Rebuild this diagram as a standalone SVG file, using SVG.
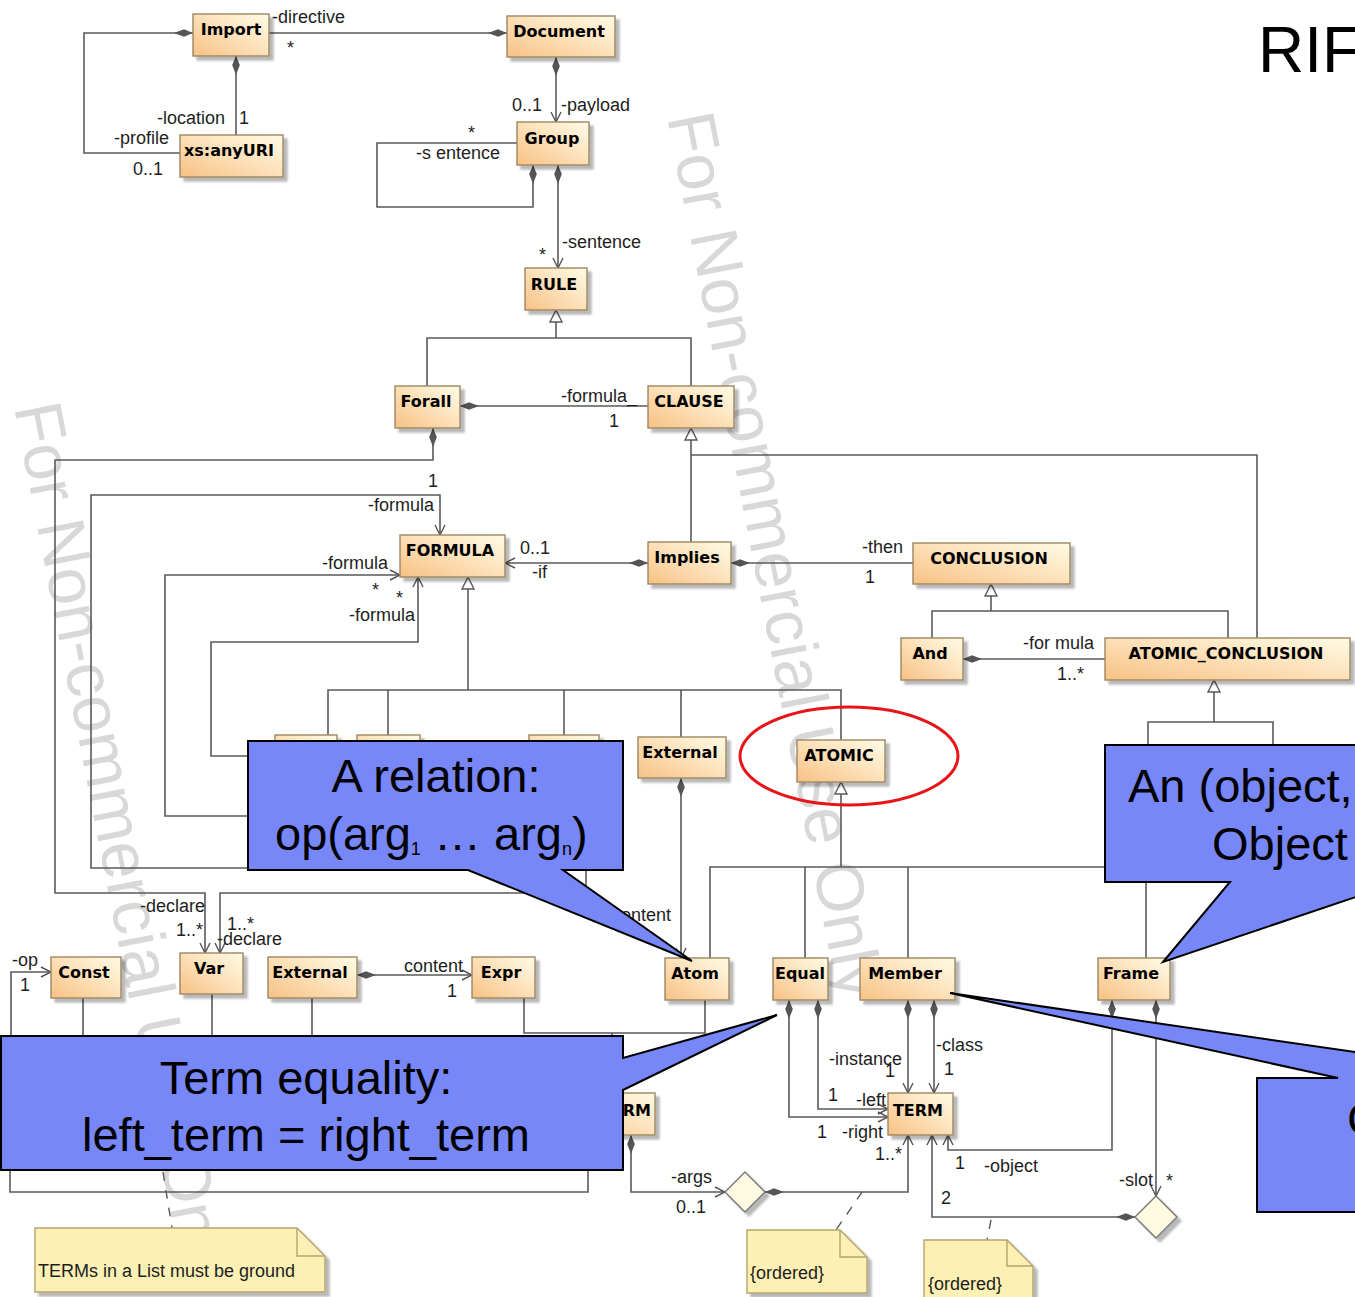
<svg xmlns="http://www.w3.org/2000/svg" width="1355" height="1297" viewBox="0 0 1355 1297">
<defs>
  <linearGradient id="nodeFill" x1="0" y1="1" x2="1" y2="0">
    <stop offset="0" stop-color="#f7c184"/>
    <stop offset="0.55" stop-color="#fde3bd"/>
    <stop offset="1" stop-color="#fffbe6"/>
  </linearGradient>
  <filter id="shadow" x="-10%" y="-10%" width="135%" height="145%">
    <feDropShadow dx="4" dy="4" stdDeviation="1.2" flood-color="#000" flood-opacity="0.28"/>
  </filter>
  <marker id="dia" markerUnits="userSpaceOnUse" viewBox="0 0 20 10" markerWidth="20" markerHeight="10" refX="0" refY="5" orient="auto">
    <path d="M0,5 L9,1.2 L19,5 L9,8.8 Z" fill="#555"/>
  </marker>
  <marker id="arr" markerUnits="userSpaceOnUse" viewBox="0 0 12 12" markerWidth="12" markerHeight="12" refX="11" refY="6" orient="auto">
    <path d="M1,1 L11,6 L1,11" fill="none" stroke="#555" stroke-width="1.4"/>
  </marker>
  <style>
    .ln{fill:none;stroke:#5a5a5a;stroke-width:1.6}
    .dm{marker-start:url(#dia)}
    .ar{marker-end:url(#arr)}
    .gen{fill:#fff;stroke:#5a5a5a;stroke-width:1.4}
    .bx{fill:url(#nodeFill);stroke:#9c8660;stroke-width:1.4;filter:url(#shadow)}
    .nm{font-family:"DejaVu Sans",sans-serif;font-weight:bold;font-size:16px;fill:#000;text-anchor:middle}
    .lb{font-family:"Liberation Sans",Arial,sans-serif;font-size:18px;fill:#1e1e1e}
    .note{fill:#fcf0b4;stroke:#b4a46c;stroke-width:1.4;filter:url(#shadow)}
    .fold{fill:none;stroke:#b4a46c;stroke-width:1.4}
    .nt{font-family:"Liberation Sans",Arial,sans-serif;font-size:18px;fill:#1e1e1e}
    .anc{fill:none;stroke:#5a5a5a;stroke-width:1.4;stroke-dasharray:9 9}
    .nary{fill:#fffbe3;stroke:#777;stroke-width:1.4;filter:url(#shadow)}
    .call{fill:#7787f7;stroke:#000;stroke-width:2}
    .ct{font-family:"Liberation Sans",Arial,sans-serif;font-size:47px;fill:#000}
    .wm{font-family:"Liberation Sans",Arial,sans-serif;font-size:67px;fill:#d8d8d8}
  </style>
</defs>

<rect width="1355" height="1297" fill="#fff"/>

<!-- evaluation-licence watermark -->
<g id="watermark">
  <text class="wm" transform="translate(667,117) rotate(79)">For Non-commercial Use Only</text>
  <text class="wm" transform="translate(14,407) rotate(79)">For Non-commercial Use Only</text>
</g>

<g id="connectors">
  <!-- generalization trees -->
  <path class="ln" d="M556,322 V338 M427,386 V338 H691 V386"/>
  <path class="ln" d="M691,440 V542 M691,455 H1257 V638"/>
  <path class="ln" d="M468,589 V690 M328,735 V690 H841 V740 M388,690 V735 M564,690 V735 M681,690 V737"/>
  <path class="ln" d="M991,596 V611 M932,638 V611 H1228 V638"/>
  <path class="ln" d="M1214,692 V722 M1148,760 V722 H1273 V760"/>
  <path class="ln" d="M841,794 V867 M710,958 V867 H1146 V958 M805,867 V958 M908,867 V958"/>
  <path class="ln" d="M83,998 V1040 M212,994 V1040 M312,998 V1040 M524,998 V1033 H705 V1000 M612,1033 V1040"/>
  <path class="ln" d="M10,1160 V1192 H588 V1160"/>
  <polygon class="gen" points="556,310 550,322 562,322"/>
  <polygon class="gen" points="691,428 685,440 697,440"/>
  <polygon class="gen" points="468,577 462,589 474,589"/>
  <polygon class="gen" points="991,584 985,596 997,596"/>
  <polygon class="gen" points="1214,680 1208,692 1220,692"/>
  <polygon class="gen" points="841,782 835,794 847,794"/>

  <!-- associations -->
  <path class="ln dm" d="M507,33 H269"/>
  <path class="ln dm" d="M236,56 V135"/>
  <path class="ln dm" d="M193,33 H84 V153 H180"/>
  <path class="ln dm ar" d="M556,57 V122"/>
  <path class="ln dm" d="M533,165 V207 H377 V143 H517"/>
  <path class="ln dm ar" d="M558,165 V268"/>
  <path class="ln dm" d="M460,406 H648"/>
  <path class="ln dm ar" d="M433,428 V460 H55 V893 H205 V953"/>
  <path class="ln dm ar" d="M648,563 H505"/>
  <path class="ln dm" d="M731,563 H913"/>
  <path class="ln ar" d="M248,868 H91 V495 H440 V535"/>
  <path class="ln ar" d="M248,816 H165 V575 H400"/>
  <path class="ln ar" d="M248,756 H211 V642 H418 V577"/>
  <path class="ln ar" d="M586,860 V893 H220 V953"/>
  <path class="ln dm" d="M963,659 H1105"/>
  <path class="ln dm ar" d="M681,778 V958"/>
  <path class="ln ar" d="M11,1040 V972 H51"/>
  <path class="ln dm ar" d="M357,975 H472"/>
  <path class="ln dm ar" d="M631,1135 V1192 H725"/>
  <path class="ln dm ar" d="M765,1192 H908 V1135"/>
  <path class="ln dm ar" d="M818,1000 V1109 H888"/>
  <path class="ln dm ar" d="M789,1000 V1117 H888"/>
  <path class="ln dm ar" d="M908,1000 V1093"/>
  <path class="ln dm ar" d="M934,1000 V1093"/>
  <path class="ln dm ar" d="M1112,1000 V1150 H948 V1135"/>
  <path class="ln dm ar" d="M1156,1000 V1196"/>
  <path class="ln dm ar" d="M1135,1217 H932 V1135"/>

  <!-- note anchors -->
  <path class="anc" d="M163,1172 L172,1228"/>
  <path class="anc" d="M862,1192 L836,1230"/>
  <path class="anc" d="M991,1220 L987,1240"/>

  <!-- role names and multiplicities -->
  <g class="lb">
    <text x="272" y="23">-directive</text>
    <text x="287" y="54">*</text>
    <text x="157" y="124">-location</text>
    <text x="239" y="124">1</text>
    <text x="114" y="144">-profile</text>
    <text x="133" y="175">0..1</text>
    <text x="512" y="111">0..1</text>
    <text x="561" y="111">-payload</text>
    <text x="468" y="139">*</text>
    <text x="416" y="159">-s entence</text>
    <text x="539" y="261">*</text>
    <text x="562" y="248">-sentence</text>
    <text x="561" y="402">-formula_</text>
    <text x="609" y="427">1</text>
    <text x="428" y="487">1</text>
    <text x="368" y="511">-formula</text>
    <text x="520" y="554">0..1</text>
    <text x="532" y="578">-if</text>
    <text x="862" y="553">-then</text>
    <text x="865" y="583">1</text>
    <text x="322" y="569">-formula</text>
    <text x="372" y="596">*</text>
    <text x="396" y="604">*</text>
    <text x="349" y="621">-formula</text>
    <text x="1023" y="649">-for mula</text>
    <text x="1057" y="680">1..*</text>
    <text x="140" y="912">-declare</text>
    <text x="176" y="936">1..*</text>
    <text x="227" y="930">1..*</text>
    <text x="217" y="945">-declare</text>
    <text x="606" y="921">-content</text>
    <text x="12" y="966">-op</text>
    <text x="20" y="991">1</text>
    <text x="404" y="972">content</text>
    <text x="447" y="997">1</text>
    <text x="829" y="1065">-instance</text>
    <text x="885" y="1077">1</text>
    <text x="936" y="1051">-class</text>
    <text x="944" y="1075">1</text>
    <text x="828" y="1101">1</text>
    <text x="856" y="1106">-left</text>
    <text x="817" y="1138">1</text>
    <text x="842" y="1138">-right</text>
    <text x="875" y="1160">1..*</text>
    <text x="955" y="1169">1</text>
    <text x="984" y="1172">-object</text>
    <text x="1119" y="1186">-slot</text>
    <text x="1166" y="1187">*</text>
    <text x="941" y="1204">2</text>
    <text x="671" y="1183">-args</text>
    <text x="676" y="1213">0..1</text>
  </g>
</g>

<!-- classes -->
<g id="n-import"><rect class="bx" x="193" y="14" width="76" height="42"/><text class="nm" x="231" y="35">Import</text></g>
<g id="n-document"><rect class="bx" x="507" y="16" width="108" height="41"/><text class="nm" x="559" y="37">Document</text></g>
<g id="n-anyuri"><rect class="bx" x="180" y="135" width="103" height="42"/><text class="nm" x="229" y="156">xs:anyURI</text></g>
<g id="n-group"><rect class="bx" x="517" y="122" width="72" height="43"/><text class="nm" x="552" y="144">Group</text></g>
<g id="n-rule"><rect class="bx" x="525" y="268" width="62" height="42"/><text class="nm" x="554" y="290">RULE</text></g>
<g id="n-forall"><rect class="bx" x="395" y="386" width="65" height="42"/><text class="nm" x="426" y="407">Forall</text></g>
<g id="n-clause"><rect class="bx" x="648" y="386" width="86" height="42"/><text class="nm" x="689" y="407">CLAUSE</text></g>
<g id="n-formula"><rect class="bx" x="400" y="535" width="105" height="42"/><text class="nm" x="450" y="556">FORMULA</text></g>
<g id="n-implies"><rect class="bx" x="648" y="542" width="83" height="42"/><text class="nm" x="687" y="563">Implies</text></g>
<g id="n-conclusion"><rect class="bx" x="913" y="543" width="157" height="41"/><text class="nm" x="989" y="564">CONCLUSION</text></g>
<g id="n-and"><rect class="bx" x="901" y="638" width="62" height="42"/><text class="nm" x="930" y="659">And</text></g>
<g id="n-atomic-conclusion"><rect class="bx" x="1105" y="638" width="245" height="42"/><text class="nm" x="1226" y="659">ATOMIC_CONCLUSION</text></g>
<g id="n-formula-sub1"><rect class="bx" x="275" y="735" width="62" height="42"/></g>
<g id="n-formula-sub2"><rect class="bx" x="357" y="735" width="63" height="42"/></g>
<g id="n-formula-sub3"><rect class="bx" x="529" y="735" width="70" height="42"/></g>
<g id="n-external-formula"><rect class="bx" x="638" y="737" width="88" height="41"/><text class="nm" x="680" y="758">External</text></g>
<g id="n-atomic"><rect class="bx" x="797" y="740" width="88" height="42"/><text class="nm" x="839" y="761">ATOMIC</text></g>
<g id="n-const"><rect class="bx" x="51" y="957" width="70" height="41"/><text class="nm" x="84" y="978">Const</text></g>
<g id="n-var"><rect class="bx" x="180" y="953" width="63" height="41"/><text class="nm" x="209" y="974">Var</text></g>
<g id="n-external-term"><rect class="bx" x="268" y="957" width="89" height="41"/><text class="nm" x="310" y="978">External</text></g>
<g id="n-expr"><rect class="bx" x="472" y="957" width="63" height="41"/><text class="nm" x="501" y="978">Expr</text></g>
<g id="n-atom"><rect class="bx" x="665" y="958" width="64" height="42"/><text class="nm" x="695" y="979">Atom</text></g>
<g id="n-equal"><rect class="bx" x="773" y="958" width="55" height="42"/><text class="nm" x="800" y="979">Equal</text></g>
<g id="n-member"><rect class="bx" x="860" y="958" width="95" height="42"/><text class="nm" x="905" y="979">Member</text></g>
<g id="n-frame"><rect class="bx" x="1098" y="958" width="72" height="42"/><text class="nm" x="1131" y="979">Frame</text></g>
<g id="n-term"><rect class="bx" x="888" y="1093" width="65" height="42"/><text class="nm" x="918" y="1116">TERM</text></g>
<g id="n-list-term"><rect class="bx" x="560" y="1093" width="95" height="42"/><text class="nm" x="651" y="1116" style="text-anchor:end">RM</text></g>

<!-- n-ary association diamonds -->
<g id="n-args"><polygon class="nary" points="745,1172 765,1192 745,1212 725,1192"/></g>
<g id="n-slot"><polygon class="nary" points="1156,1196 1177,1217 1156,1238 1135,1217"/></g>

<!-- notes -->
<g id="note-ground">
  <path class="note" d="M35,1228 H297 L325,1256 V1292 H35 Z"/>
  <path class="fold" d="M297,1228 V1256 H325"/>
  <text class="nt" x="38" y="1277">TERMs in a List must be ground</text>
</g>
<g id="note-ordered-args">
  <path class="note" d="M747,1230 H840 L867,1257 V1293 H747 Z"/>
  <path class="fold" d="M840,1230 V1257 H867"/>
  <text class="nt" x="750" y="1279">{ordered}</text>
</g>
<g id="note-ordered-slot">
  <path class="note" d="M924,1240 H1007 L1033,1266 V1302 H924 Z"/>
  <path class="fold" d="M1007,1240 V1266 H1033"/>
  <text class="nt" x="928" y="1290">{ordered}</text>
</g>

<!-- highlight -->
<ellipse id="highlight" cx="849" cy="756" rx="109" ry="49" fill="none" stroke="#e8141a" stroke-width="3"/>

<!-- callouts -->
<g id="callout-relation">
  <path class="call" d="M248,741 H623 V870 H563 L692,961 L468,870 H248 Z"/>
  <text class="ct" x="436" y="792" text-anchor="middle">A relation:</text>
  <text class="ct" x="275" y="850">op(arg<tspan font-size="18" dy="5">1</tspan><tspan dy="-5"> … arg</tspan><tspan font-size="18" dy="5">n</tspan><tspan dy="-5">)</tspan></text>
</g>
<g id="callout-frame">
  <path class="call" d="M1105,745 H1420 V882 H1400 L1163,962 L1230,882 H1105 Z"/>
  <text class="ct" x="1128" y="802">An (object,</text>
  <text class="ct" x="1212" y="860">Object</text>
</g>
<g id="callout-equal">
  <path class="call" d="M1,1036 H623 V1058 L777,1015 L623,1090 V1170 H1 Z"/>
  <text class="ct" x="306" y="1094" text-anchor="middle">Term equality:</text>
  <text class="ct" x="306" y="1151" text-anchor="middle">left_term = right_term</text>
</g>
<g id="callout-member">
  <path class="call" d="M1257,1078 H1338 L950,993 L1533,1078 H1600 V1212 H1257 Z"/>
  <text class="ct" x="1347" y="1135">C</text>
</g>

<text id="title" x="1258" y="72" font-family="Liberation Sans, Arial, sans-serif" font-size="64" fill="#000">RIF</text>
</svg>
